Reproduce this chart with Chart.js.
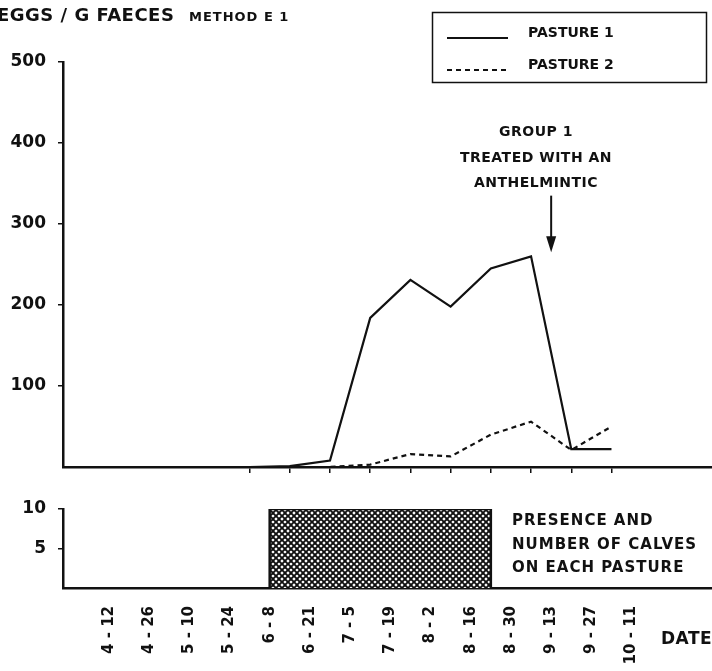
<!DOCTYPE html>
<html><head><meta charset="utf-8">
<script src="https://cdn.jsdelivr.net/npm/chart.js@4.4.0/dist/chart.umd.min.js"></script>
<style>
html,body{margin:0;padding:0;background:#fff;}
#wrap{position:relative;width:712px;height:671px;overflow:hidden;background:#fff;}
canvas{position:absolute;left:0;}
#c1{top:0;}
#c2{top:480px;}
</style></head><body>
<div id="wrap"><canvas id="c1" width="712" height="500"></canvas><canvas id="c2" width="712" height="191"></canvas></div>
<script>
// ---- data ----
const dates = ['4 - 12','4 - 26','5 - 10','5 - 24','6 - 8','6 - 21','7 - 5','7 - 19','8 - 2','8 - 16','8 - 30','9 - 13','9 - 27','10 - 11'];
// sampling points, in date-axis units (midway between labelled dates)
const samplePos = [3.5, 4.5, 5.5, 6.5, 7.5, 8.5, 9.5, 10.5, 11.5, 12.5];
const pasture1 = [0, 1, 8, 184, 231, 198, 245, 260, 22, 22];
const pasture2 = [0, 0, 0, 3, 16, 13, 40, 56, 21, 50];
const eggTicks = [100, 200, 300, 400, 500];
const calfTicks = [5, 10];
const calvesFrom = 4;     // 6-8
const calvesTo = 9.5;     // ~8-23
const calvesNumber = 10;
const treatedAt = 11;     // 9-13
const arrowTop = 335, arrowTip = 265;

const FONT = '"DejaVu Sans", "Liberation Sans", sans-serif';
const INK = '#111';
const X_MIN = -1.14, X_MAX = 15.0;

function hatchPattern(ctx) {
  const c = document.createElement('canvas'); c.width = 6; c.height = 6;
  const g = c.getContext('2d');
  g.fillStyle = '#fff'; g.fillRect(0,0,6,6);
  g.strokeStyle = INK; g.lineWidth = 1.9;
  g.beginPath();
  for (const d of [-6, 0, 6]) {
    g.moveTo(d - 1, -1); g.lineTo(d + 7, 7);
    g.moveTo(d + 7, -1); g.lineTo(d - 1, 7);
  }
  g.stroke();
  return ctx.createPattern(c, 'repeat');
}

function setSpacing(ctx, s) { if ('letterSpacing' in ctx) ctx.letterSpacing = s; }

const topDecor = {
  id: 'topDecor',
  afterDraw(chart) {
    const ctx = chart.ctx, xs = chart.scales.x, ys = chart.scales.y;
    ctx.save();
    ctx.fillStyle = INK; ctx.strokeStyle = INK;
    // title
    ctx.textBaseline = 'alphabetic'; ctx.textAlign = 'left';
    ctx.font = 'bold 18px ' + FONT; setSpacing(ctx, '0.5px');
    ctx.fillText('EGGS / G FAECES', -3, 21);
    ctx.font = 'bold 13px ' + FONT; setSpacing(ctx, '1px');
    ctx.fillText('METHOD E 1', 189, 21);
    // legend box
    setSpacing(ctx, '0px');
    ctx.lineWidth = 1.5;
    ctx.strokeRect(432.5, 12.5, 274, 70);
    const ds = chart.data.datasets;
    const rows = [37, 69];
    ds.forEach((d, i) => {
      ctx.save();
      ctx.lineWidth = 1.8;
      ctx.setLineDash(d.borderDash || []);
      ctx.beginPath(); ctx.moveTo(447, rows[i] + 1); ctx.lineTo(508, rows[i] + 1); ctx.stroke();
      ctx.restore();
      ctx.font = 'bold 14px ' + FONT; ctx.textBaseline = 'middle';
      ctx.fillText(d.label, 528, rows[i] - 4);
    });
    // annotation
    ctx.textAlign = 'center'; ctx.textBaseline = 'middle';
    ctx.font = 'bold 14px ' + FONT; setSpacing(ctx, '0.5px');
    const tx = 536;
    ctx.fillText('GROUP 1', tx, 132);
    ctx.fillText('TREATED WITH AN', tx, 158);
    ctx.fillText('ANTHELMINTIC', tx, 183);
    // arrow
    const ax = xs.getPixelForValue(treatedAt);
    const y0 = ys.getPixelForValue(arrowTop), y1 = ys.getPixelForValue(arrowTip);
    ctx.lineWidth = 2;
    ctx.beginPath(); ctx.moveTo(ax, y0); ctx.lineTo(ax, y1 - 10); ctx.stroke();
    ctx.beginPath(); ctx.moveTo(ax - 5, y1 - 16); ctx.lineTo(ax + 5, y1 - 16); ctx.lineTo(ax, y1); ctx.closePath(); ctx.fill();
    ctx.restore();
  }
};

const bottomDecor = {
  id: 'bottomDecor',
  afterDraw(chart) {
    const ctx = chart.ctx;
    ctx.save();
    ctx.fillStyle = INK;
    ctx.textAlign = 'left'; ctx.textBaseline = 'middle';
    ctx.font = 'bold 15px ' + FONT; setSpacing(ctx, '1px');
    ctx.fillText('PRESENCE AND', 512, 41);
    ctx.fillText('NUMBER OF CALVES', 512, 65);
    ctx.fillText('ON EACH PASTURE', 512, 88);
    ctx.font = 'bold 17px ' + FONT; setSpacing(ctx, '0.5px');
    ctx.fillText('DATE', 661, 160);
    ctx.restore();
  }
};

const c1 = document.getElementById('c1').getContext('2d');
new Chart(c1, {
  type: 'line',
  data: {
    datasets: [
      { label: 'PASTURE 1', data: samplePos.map((x, i) => ({ x, y: pasture1[i] })),
        borderColor: INK, borderWidth: 2.2, pointRadius: 0, tension: 0, fill: false },
      { label: 'PASTURE 2', data: samplePos.map((x, i) => ({ x, y: pasture2[i] })),
        borderColor: INK, borderWidth: 2.2, borderDash: [5, 4], pointRadius: 0, tension: 0, fill: false }
    ]
  },
  options: {
    responsive: false, animation: false, devicePixelRatio: 1,
    layout: { padding: { top: 62, left: 0, right: 0, bottom: 33 } },
    plugins: { legend: { display: false }, tooltip: { enabled: false } },
    scales: {
      x: {
        type: 'linear', min: X_MIN, max: X_MAX,
        afterBuildTicks: s => { s.ticks = samplePos.map(v => ({ value: v })); },
        afterFit: s => { s.height = 0; },
        ticks: { display: false },
        grid: { drawOnChartArea: false, drawTicks: true, tickLength: 6, color: INK, lineWidth: 1.5 },
        border: { display: true, color: INK, width: 2.5 }
      },
      y: {
        min: 0, max: 500,
        afterBuildTicks: s => { s.ticks = eggTicks.map(v => ({ value: v })); },
        afterFit: s => { s.width = 63; },
        ticks: { color: INK, padding: 12, font: { family: FONT, size: 17, weight: 'bold' } },
        grid: { drawOnChartArea: false, drawTicks: true, tickLength: 5, color: INK, lineWidth: 1.5 },
        border: { display: true, color: INK, width: 2.5 }
      }
    }
  },
  plugins: [topDecor]
});

const c2 = document.getElementById('c2').getContext('2d');
new Chart(c2, {
  type: 'line',
  data: {
    datasets: [
      { label: 'CALVES', data: [
          { x: calvesFrom, y: 0 }, { x: calvesFrom, y: calvesNumber },
          { x: calvesTo, y: calvesNumber }, { x: calvesTo, y: 0 } ],
        borderColor: INK, borderWidth: 2.5, backgroundColor: hatchPattern(c2),
        fill: 'origin', pointRadius: 0, tension: 0 }
    ]
  },
  options: {
    responsive: false, animation: false, devicePixelRatio: 1,
    layout: { padding: { top: 29, left: 0, right: 0, bottom: 0 } },
    plugins: { legend: { display: false }, tooltip: { enabled: false } },
    scales: {
      x: {
        type: 'linear', min: X_MIN, max: X_MAX,
        afterBuildTicks: s => { s.ticks = dates.map((_, i) => ({ value: i })); },
        afterFit: s => { s.height = 83; },
        ticks: { autoSkip: false, maxRotation: 90, minRotation: 90, padding: 18, color: INK,
          font: { family: FONT, size: 15, weight: 'bold' },
          callback: v => dates[Math.round(v)] },
        grid: { drawOnChartArea: false, drawTicks: false },
        border: { display: true, color: INK, width: 2.5 }
      },
      y: {
        min: 0, max: 10,
        afterBuildTicks: s => { s.ticks = calfTicks.map(v => ({ value: v })); },
        afterFit: s => { s.width = 63; },
        ticks: { color: INK, padding: 12, font: { family: FONT, size: 17, weight: 'bold' } },
        grid: { drawOnChartArea: false, drawTicks: true, tickLength: 5, color: INK, lineWidth: 1.5 },
        border: { display: true, color: INK, width: 2.5 }
      }
    }
  },
  plugins: [bottomDecor]
});
</script>
</body></html>
